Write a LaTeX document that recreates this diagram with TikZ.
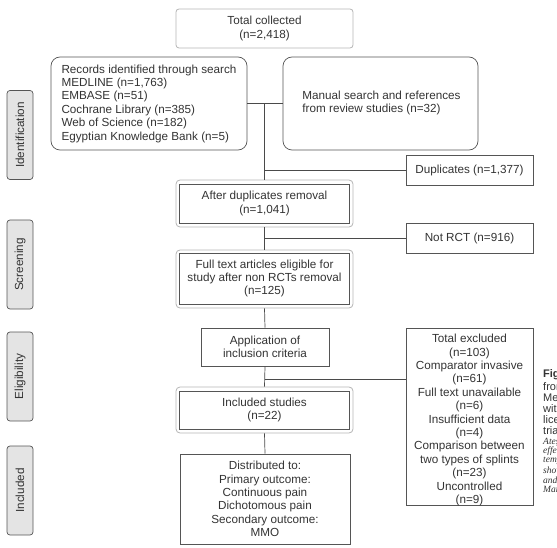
\documentclass[tikz,border=0pt]{standalone}
\usepackage{fontspec}
\setmainfont{Liberation Sans}
\newfontfamily\capserif{Liberation Serif}
\definecolor{boxc}{HTML}{555555}
\definecolor{lightc}{HTML}{B4B4B4}
\definecolor{linec}{HTML}{4A4A4A}
\definecolor{txtc}{HTML}{333333}
\definecolor{phasefill}{HTML}{E4E4E4}
\begin{document}
\begin{tikzpicture}[x=1pt,y=-1pt,
  font=\fontsize{11.7}{13.4}\selectfont, text=txtc,
  bx/.style={draw=boxc,line width=0.7pt,inner sep=0pt,align=center},
  rbx/.style={draw=boxc,line width=0.7pt,inner sep=0pt,rounded corners=9pt},
  outerbox/.style={draw=lightc,line width=0.8pt,rounded corners=4pt,inner sep=0pt},
  lightbox/.style={draw=lightc,line width=0.8pt,rounded corners=3pt,inner sep=0pt,align=center},
  phase/.style={draw=boxc,fill=phasefill,line width=0.7pt,rounded corners=3pt,inner sep=0pt,minimum width=26pt,minimum height=89pt},
  phasetxt/.style={rotate=90,text=txtc},
  conn/.style={draw=linec,line width=0.7pt},
  capsans/.style={anchor=west,inner sep=0pt,font=\fontsize{11}{11}\selectfont,text=txtc},
  capit/.style={anchor=west,inner sep=0pt,font=\capserif\itshape\fontsize{9.5}{9.5}\selectfont,text=txtc}]
\useasboundingbox (0,0) rectangle (557,548);
\clip (0,0) rectangle (557,548);

% phase labels
\node[phase] (pid) at (20,135) {};
\node[phasetxt] (pidt) at (pid.center) {Identification};
\node[phase] (psc) at (20,264.5) {};
\node[phasetxt] (psct) at (psc.center) {Screening};
\node[phase] (pel) at (20,376.5) {};
\node[phasetxt] (pelt) at (pel.center) {Eligibility};
\node[phase] (pin) at (20,490.5) {};
\node[phasetxt] (pint) at (pin.center) {Included};

% boxes
\node[lightbox,minimum width=177pt,minimum height=39pt] (total) at (264.5,28.5) {Total collected\\(n=2,418)};

\node[rbx,minimum width=196pt,minimum height=93pt] (records) at (149,103.5) {};
\node[align=left,inner sep=0pt] (recordst) at (records.center) {Records identified through search\\MEDLINE (n=1,763)\\EMBASE (n=51)\\Cochrane Library (n=385)\\Web of Science (n=182)\\Egyptian Knowledge Bank (n=5)};

\node[rbx,minimum width=195pt,minimum height=93pt] (manual) at (380.5,103.5) {};
\node[align=left,inner sep=0pt] (manualt) at (381.5,103) {Manual search and references\\from review studies (n=32)};

\node[bx,minimum width=127pt,minimum height=30pt] (dup) at (469.5,170) {Duplicates (n=1,377)};

\node[outerbox,minimum width=177pt,minimum height=47pt] (after) at (264.5,203.5) {};
\node[bx,minimum width=170pt,minimum height=39pt] (afteri) at (264.5,203.5) {After duplicates removal\\(n=1,041)};

\node[bx,minimum width=127pt,minimum height=30pt] (notrct) at (469.5,238) {Not RCT (n=916)};

\node[outerbox,minimum width=177pt,minimum height=58pt] (full) at (264.5,279) {};
\node[bx,minimum width=170pt,minimum height=51pt] (fulli) at (264.5,278.5) {Full text articles eligible for\\study after non RCTs removal\\(n=125)};

\node[bx,minimum width=128pt,minimum height=38pt] (app) at (265,347) {Application of\\inclusion criteria};

\node[bx,minimum width=127pt,minimum height=177pt] (excl) at (469.5,416.5) {};
\node[align=center,inner sep=0pt] (exclt) at (469.5,420) {Total excluded\\(n=103)\\Comparator invasive\\(n=61)\\Full text unavailable\\(n=6)\\Insufficient data\\(n=4)\\Comparison between\\two types of splints\\(n=23)\\Uncontrolled\\(n=9)};

\node[outerbox,minimum width=177pt,minimum height=46pt] (incl) at (264.5,410) {};
\node[bx,minimum width=170pt,minimum height=38pt] (incli) at (264.5,410) {Included studies\\(n=22)};

\node[bx,minimum width=170pt,minimum height=90pt] (dist) at (265,499) {Distributed to:\\Primary outcome:\\Continuous pain\\Dichotomous pain\\Secondary outcome:\\MMO};

% connectors
\draw[conn] (records.east) -- (manual.west);
\draw[conn] (records.east -| after.north) -- (after.north);
\draw[conn] (dup.west -| after.north) -- (dup.west);
\draw[conn] (after.south) -- (full.north);
\draw[conn] (notrct.west -| after.south) -- (notrct.west);
\draw[conn] (full.south) -- (app.north);
\coordinate (b3) at (264.5,379);
\draw[conn] (app.south) -- (incl.north);
\draw[conn] (b3) -- (b3 -| excl.west);
\draw[conn] (incl.south) -- (dist.north);

% caption at right edge, cut off by the picture's edge as in the reference
\node[capsans,font=\bfseries\fontsize{11}{11}\selectfont] (c1) at (543,375) {Figure};
\node[capsans] (c2) at (543,387) {from};
\node[capsans] (c3) at (543,398) {Meta};
\node[capsans] (c4) at (543,409) {with};
\node[capsans] (c5) at (543,420) {licen};
\node[capsans] (c6) at (543,431) {trial};
\node[capit] (c7) at (543,442) {Ateş};
\node[capit] (c8) at (543,451.5) {effect};
\node[capit] (c9) at (543,461) {temp};
\node[capit] (c10) at (543,470.5) {show};
\node[capit] (c11) at (543,480) {and};
\node[capit] (c12) at (543,489.5) {Man};
\end{tikzpicture}
\end{document}
